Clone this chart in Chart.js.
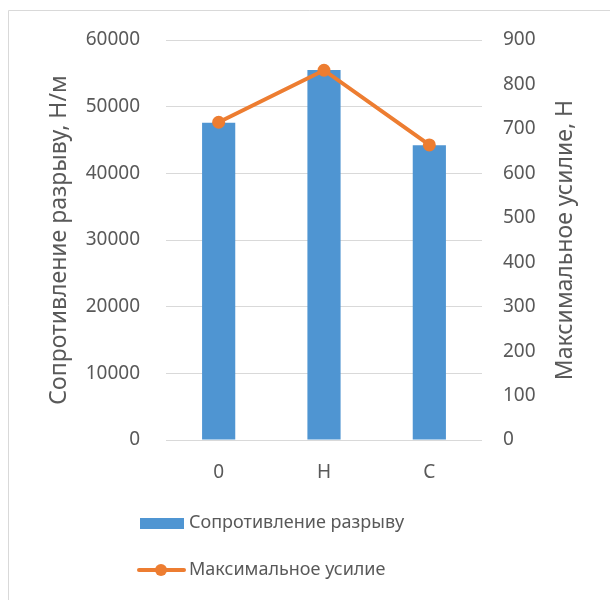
<!DOCTYPE html>
<html>
<head>
<meta charset="utf-8">
<script src="https://cdn.jsdelivr.net/npm/chart.js@4.4.1/dist/chart.umd.min.js"></script>
<style>
  html, body { margin: 0; padding: 0; background: #fff; }
  #wrap { width: 610px; height: 600px; }
</style>
</head>
<body>
<div id="wrap"><canvas id="myChart" width="610" height="600"></canvas></div>
<script>
// setup
const categories = ['0', 'Н', 'С'];
const breakResistance = [47600, 55500, 44200];   // Н/м
const maxForce = [715, 832, 664];                // Н
const leftTicks = [0, 10000, 20000, 30000, 40000, 50000, 60000];
const rightTicks = [0, 100, 200, 300, 400, 500, 600, 700, 800, 900];

const barColor = '#4F95D2';
const lineColor = '#ED7D31';
const textColor = '#595959';
const fontFamily = "'Noto Sans', 'Open Sans', sans-serif";
const rightTitle = 'Максимальное усилие, Н';

// frame around the chart (left and top edges)
const frame = {
  id: 'frame',
  beforeDraw(chart) {
    const { ctx } = chart;
    ctx.save();
    ctx.strokeStyle = '#D9D9D9';
    ctx.lineWidth = 1;
    ctx.beginPath();
    ctx.moveTo(8.5, 600);
    ctx.lineTo(8.5, 10.5);
    ctx.lineTo(610, 10.5);
    ctx.stroke();
    ctx.restore();
  }
};

// right axis title, reading bottom to top like the left one
const rightAxisTitle = {
  id: 'rightAxisTitle',
  afterDraw(chart) {
    const { ctx, chartArea: { top, bottom } } = chart;
    ctx.save();
    ctx.translate(565, (top + bottom) / 2);
    ctx.rotate(-Math.PI / 2);
    ctx.font = '23px ' + fontFamily;
    ctx.fillStyle = textColor;
    ctx.textAlign = 'center';
    ctx.textBaseline = 'middle';
    ctx.fillText(rightTitle, 0, 0);
    ctx.restore();
  }
};

// vertical legend under the x axis
const stackedLegend = {
  id: 'stackedLegend',
  afterDraw(chart) {
    const { ctx } = chart;
    const ds = chart.data.datasets;
    const x0 = 140, textX = 189;
    const rows = [523, 570];
    ctx.save();
    ctx.font = '18px ' + fontFamily;
    ctx.textBaseline = 'middle';

    // bar item
    ctx.fillStyle = ds[0].backgroundColor;
    ctx.fillRect(x0, rows[0] - 5, 44, 11);
    ctx.fillStyle = textColor;
    ctx.fillText(ds[0].label, textX, rows[0]);

    // line item
    ctx.strokeStyle = ds[1].borderColor;
    ctx.lineWidth = 4;
    ctx.lineCap = 'round';
    ctx.beginPath();
    ctx.moveTo(x0 - 1, rows[1]);
    ctx.lineTo(x0 + 44, rows[1]);
    ctx.stroke();
    ctx.fillStyle = ds[1].borderColor;
    ctx.beginPath();
    ctx.arc(x0 + 21, rows[1], 6, 0, Math.PI * 2);
    ctx.fill();
    ctx.fillStyle = textColor;
    ctx.fillText(ds[1].label, textX, rows[1]);
    ctx.restore();
  }
};

const data = {
  labels: categories,
  datasets: [
    {
      type: 'bar',
      label: 'Сопротивление разрыву',
      data: breakResistance,
      yAxisID: 'y',
      backgroundColor: barColor,
      barPercentage: 0.63,
      categoryPercentage: 0.5,
      order: 1
    },
    {
      type: 'line',
      label: 'Максимальное усилие',
      data: maxForce,
      yAxisID: 'y1',
      borderColor: lineColor,
      backgroundColor: lineColor,
      borderWidth: 4,
      pointRadius: 6.5,
      pointHoverRadius: 6.5,
      pointBackgroundColor: lineColor,
      pointBorderWidth: 0,
      tension: 0,
      order: 0
    }
  ]
};

const tickFont = { size: 19, family: fontFamily };

const config = {
  data: data,
  options: {
    responsive: false,
    animation: false,
    layout: { padding: { top: 40, bottom: 0, left: 0, right: 0 } },
    plugins: {
      legend: { display: false },
      tooltip: { enabled: false }
    },
    scales: {
      x: {
        grid: { display: false, drawTicks: false },
        border: { display: false },
        ticks: { color: textColor, font: tickFont, padding: 21 },
        afterFit: axis => { axis.height = 160; }
      },
      y: {
        position: 'left',
        min: 0,
        max: 60000,
        afterBuildTicks: axis => { axis.ticks = leftTicks.map(v => ({ value: v })); },
        grid: { color: '#D9D9D9', lineWidth: 1, drawTicks: false },
        border: { display: false },
        ticks: { color: textColor, font: tickFont, padding: 26, callback: v => String(v) },
        title: {
          display: true,
          text: 'Сопротивление разрыву, Н/м',
          color: textColor,
          font: { size: 23, family: fontFamily },
          padding: { top: 46, bottom: 0 }
        },
        afterFit: axis => { axis.width = 166; }
      },
      y1: {
        position: 'right',
        min: 0,
        max: 900,
        afterBuildTicks: axis => { axis.ticks = rightTicks.map(v => ({ value: v })); },
        grid: { display: false, drawTicks: false },
        border: { display: false },
        ticks: { color: textColor, font: tickFont, padding: 21, callback: v => String(v) },
        afterFit: axis => { axis.width = 128; }
      }
    }
  },
  plugins: [frame, rightAxisTitle, stackedLegend]
};

const myChart = new Chart(document.getElementById('myChart'), config);
</script>
</body>
</html>
